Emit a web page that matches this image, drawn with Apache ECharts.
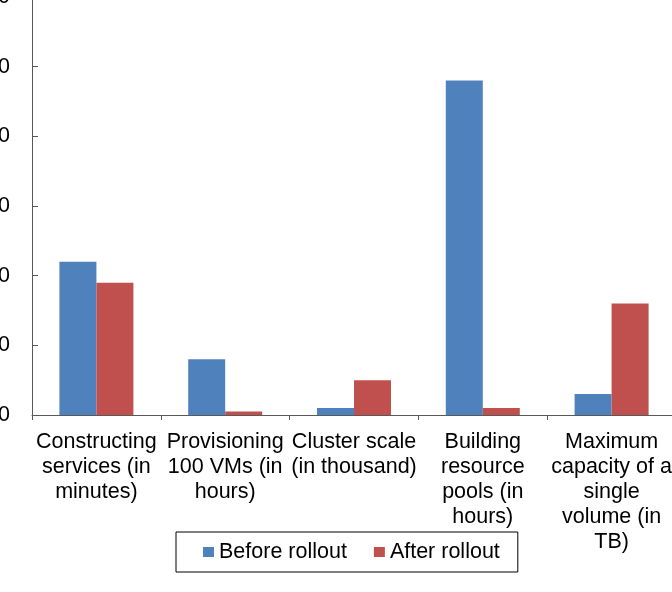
<!DOCTYPE html>
<html>
<head>
<meta charset="utf-8">
<script src="https://cdn.jsdelivr.net/npm/echarts@6/dist/echarts.min.js"></script>
<style>
html,body{margin:0;padding:0;width:672px;height:592px;overflow:hidden;background:#fff;position:relative;}
#c{position:absolute;left:-60px;top:-20px;width:800px;height:612px;}
</style>
</head>
<body>
<div id="c"></div>
<script>
const categories = [
  "Constructing\nservices (in\nminutes)",
  "Provisioning\n100 VMs (in\nhours)",
  "Cluster scale\n(in thousand)",
  "Building\nresource\npools (in\nhours)",
  "Maximum\ncapacity of a\nsingle\nvolume (in\nTB)"
];
const beforeRollout = [22, 8, 1, 48, 3];
const afterRollout = [19, 0.5, 5, 1, 16];
const yTicks = [0, 10, 20, 30, 40, 50, 60];

const chart = echarts.init(document.getElementById('c'), null, {renderer: 'canvas'});
const font = 'Liberation Sans, Arial, sans-serif';
chart.setOption({
  animation: false,
  textStyle: {fontFamily: font},
  grid: {left: 92, top: 17, right: 64, bottom: 177, containLabel: false},
  legend: {
    data: ['Before rollout', 'After rollout'],
    left: 236, top: 552,
    itemWidth: 11, itemHeight: 10, itemGap: 27,
    padding: [9, 18, 9, 27],
    borderColor: '#000', borderWidth: 1,
    icon: 'rect',
    textStyle: {fontSize: 21.5, color: '#000', fontFamily: font, padding: [0, 0, 0, 0]}
  },
  xAxis: {
    type: 'category',
    data: categories,
    axisLine: {lineStyle: {color: '#595959', width: 1}},
    axisTick: {show: true, inside: false, length: 5, lineStyle: {color: '#595959'}},
    axisLabel: {fontSize: 21.5, color: '#000', lineHeight: 25, margin: 15, interval: 0, fontFamily: font}
  },
  yAxis: {
    type: 'value',
    min: yTicks[0], max: yTicks[yTicks.length - 1], interval: 10,
    splitLine: {show: false},
    axisLine: {show: true, lineStyle: {color: '#595959', width: 1}},
    axisTick: {show: true, inside: true, length: 6, lineStyle: {color: '#595959'}},
    axisLabel: {fontSize: 21.5, color: '#000', margin: 22, fontFamily: font}
  },
  series: [
    {name: 'Before rollout', type: 'bar', data: beforeRollout, barWidth: 37, barGap: '0%',
     itemStyle: {color: '#4F81BD'}},
    {name: 'After rollout', type: 'bar', data: afterRollout, barWidth: 37, barGap: '0%',
     itemStyle: {color: '#C0504D'}}
  ]
});
</script>
</body>
</html>
